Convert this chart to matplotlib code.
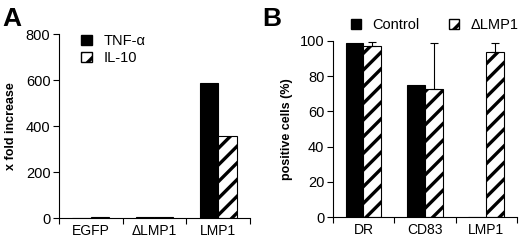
from matplotlib import pyplot as plt
from matplotlib.patches import Patch
import numpy as np

plt.rcParams['font.family'] = ['Liberation Sans', 'DejaVu Sans']
plt.rcParams['hatch.linewidth'] = 2.4

# panel A
cats_a = ['EGFP', '\u0394LMP1', 'LMP1']
tnf = [1, 6, 587]
il10 = [3, 3, 357]

# panel B
cats_b = ['DR', 'CD83', 'LMP1']
control = [99, 75, 0]
dlmp1 = [97.3, 72.7, 93.8]
dlmp1_err = [2.3, 26, 5]

fig = plt.figure(figsize=(5.2, 2.45), dpi=100)
axA = fig.add_axes([0.113, 0.11, 0.368, 0.751])
axB = fig.add_axes([0.640, 0.114, 0.354, 0.719])

w = 0.29
x = np.arange(3)

def style(ax, cats, ymax, step):
    for s in ['top', 'right']:
        ax.spines[s].set_visible(False)
    ax.set_xlim(-0.5, 2.5)
    ax.set_ylim(0, ymax)
    ax.set_yticks(np.arange(0, ymax + 1, step))
    ax.set_xticks([-0.5, 0.5, 1.5, 2.5])
    ax.set_xticklabels([])
    ax.set_xticks(x, minor=True)
    ax.set_xticklabels(cats, minor=True)
    ax.tick_params(axis='x', which='minor', length=0, pad=4, labelsize=10)
    ax.tick_params(axis='x', which='major', length=4, direction='out')
    ax.tick_params(axis='y', length=4, direction='out', labelsize=10.5, pad=2)

axA.bar(x - w/2, tnf, w, color='black', edgecolor='black', lw=0.8)
axA.bar(x + w/2, il10, w, color='white', edgecolor='black', hatch='//', lw=0.8)
style(axA, cats_a, 800, 200)
axA.set_ylabel('x fold increase', fontsize=9, fontweight='bold', labelpad=6)
axA.legend([Patch(facecolor='black', edgecolor='black'),
            Patch(facecolor='white', edgecolor='black', hatch='//')],
           ['TNF-\u03b1', 'IL-10'], loc='upper left', bbox_to_anchor=(0.05, 1.07),
           frameon=False, fontsize=10.5, handlelength=0.7, handleheight=0.7,
           handletextpad=0.8, labelspacing=0.2)

axB.bar(x - w/2, control, w, color='black', edgecolor='black', lw=0.8)
axB.bar(x + w/2, dlmp1, w, color='white', edgecolor='black', hatch='//', lw=0.8,
        yerr=[np.zeros(3), dlmp1_err], capsize=3, error_kw={'elinewidth': 0.8, 'capthick': 0.8})
style(axB, cats_b, 100, 20)
axB.set_ylabel('positive cells (%)', fontsize=9, fontweight='bold', labelpad=5)
axB.legend([Patch(facecolor='black', edgecolor='black'),
            Patch(facecolor='white', edgecolor='black', hatch='//')],
           ['Control', '\u0394LMP1'], loc='lower left', bbox_to_anchor=(0.05, 1.0),
           ncol=2, frameon=False, fontsize=10.5, handlelength=0.7, handleheight=0.7,
           handletextpad=0.8, columnspacing=2.0, borderaxespad=0.2)

fig.text(0.005, 0.895, 'A', fontsize=19, fontweight='bold')
fig.text(0.505, 0.895, 'B', fontsize=19, fontweight='bold')

plt.savefig('out.png', dpi=100)
